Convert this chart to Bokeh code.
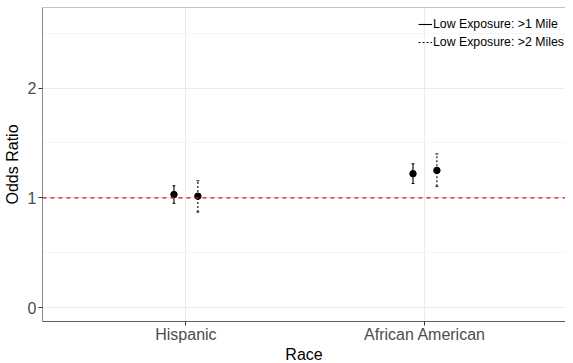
from bokeh.plotting import figure
from bokeh.models import (Range1d, FixedTicker, Span, Legend, LegendItem,
                          ColumnDataSource, Title)
from bokeh.embed import file_html
from bokeh.resources import INLINE

# ---- data ----
races = ["Hispanic", "African American"]
or_1mile = [1.03, 1.22]
lo_1mile = [0.95, 1.13]
hi_1mile = [1.11, 1.31]
or_2mile = [1.015, 1.25]
lo_2mile = [0.87, 1.105]
hi_2mile = [1.155, 1.40]
y_ticks = [0, 1, 2]
y_minor = [0.5, 1.5, 2.5]

FONT = "Liberation Sans"
dodge = 0.05
cap = 0.006
Y0, Y1 = -0.1276, 2.735
X0, X1 = 0.4, 2.588

p = figure(width=565, height=363, output_backend="svg", toolbar_location=None,
           x_range=Range1d(X0, X1), y_range=Range1d(Y0, Y1),
           min_border_left=6, min_border_right=0, min_border_top=7,
           min_border_bottom=42)
p.outline_line_color = None
p.background_fill_color = "white"
p.border_fill_color = "white"

pos = [i + 1 for i in range(len(races))]

# grids
p.xgrid.ticker = FixedTicker(ticks=pos)
p.xgrid.grid_line_color = "#ebebeb"
p.ygrid.ticker = FixedTicker(ticks=y_ticks, minor_ticks=y_minor)
p.ygrid.grid_line_color = "#ebebeb"
p.ygrid.minor_grid_line_color = "#f4f4f4"

# axes
p.xaxis.ticker = FixedTicker(ticks=pos)
p.xaxis.major_label_overrides = {k: r for k, r in zip(pos, races)}
p.yaxis.ticker = FixedTicker(ticks=y_ticks)
for ax in (p.xaxis[0], p.yaxis[0]):
    ax.minor_tick_line_color = None
    ax.major_tick_in = 0
    ax.major_tick_out = 4
    ax.major_tick_line_color = "#333333"
    ax.major_label_text_font = FONT
    ax.major_label_text_font_size = "16px"
    ax.major_label_text_color = "#4d4d4d"
    ax.axis_label_text_font = FONT
    ax.axis_label_text_font_size = "16px"
    ax.axis_label_text_font_style = "normal"
    ax.axis_label_text_color = "black"
p.yaxis.axis_label = "Odds Ratio"
p.xaxis.axis_line_color = "#5e5e5e"
p.yaxis.axis_line_color = "#888888"
p.xaxis.major_label_standoff = 0
p.yaxis.major_label_standoff = 2
p.yaxis.axis_label_standoff = 4

# x-axis title below the tick labels
p.add_layout(Title(text="Race", align="center", text_font=FONT, text_font_size="16px",
                   text_font_style="normal", text_color="black", standoff=-3), "below")

# top border
p.add_layout(Span(location=Y1, dimension="width", line_color="#888888", line_width=1))

# reference line
p.add_layout(Span(location=1, dimension="width", line_color="#d01010",
                  line_width=1.2, line_dash="4 4"))

def series(offset, est, lo, hi, dash):
    xs = [x + offset for x in pos]
    src = ColumnDataSource(dict(x=xs, est=est, lo=lo, hi=hi,
                                cl=[x - cap for x in xs], cr=[x + cap for x in xs]))
    r = p.segment(x0="x", y0="lo", x1="x", y1="hi", source=src,
                  line_color="black", line_width=1.1, line_dash=dash)
    p.segment(x0="cl", y0="lo", x1="cr", y1="lo", source=src, line_color="black", line_width=1)
    p.segment(x0="cl", y0="hi", x1="cr", y1="hi", source=src, line_color="black", line_width=1)
    p.scatter(x="x", y="est", source=src, size=6.5, color="black")
    return r

r1 = series(-dodge, or_1mile, lo_1mile, hi_1mile, "solid")
r2 = series(dodge, or_2mile, lo_2mile, hi_2mile, "2 2")

legend = Legend(items=[LegendItem(label="Low Exposure: >1 Mile", renderers=[r1]),
                       LegendItem(label="Low Exposure: >2 Miles", renderers=[r2])],
                location=(376, 272), background_fill_alpha=0, border_line_color=None,
                label_text_font=FONT, label_text_font_size="12.3px",
                label_text_color="black", glyph_width=14, glyph_height=14,
                label_height=14, label_standoff=1, spacing=4, padding=5, margin=0)
p.add_layout(legend)

open("out.html", "w").write(file_html(p, INLINE))
